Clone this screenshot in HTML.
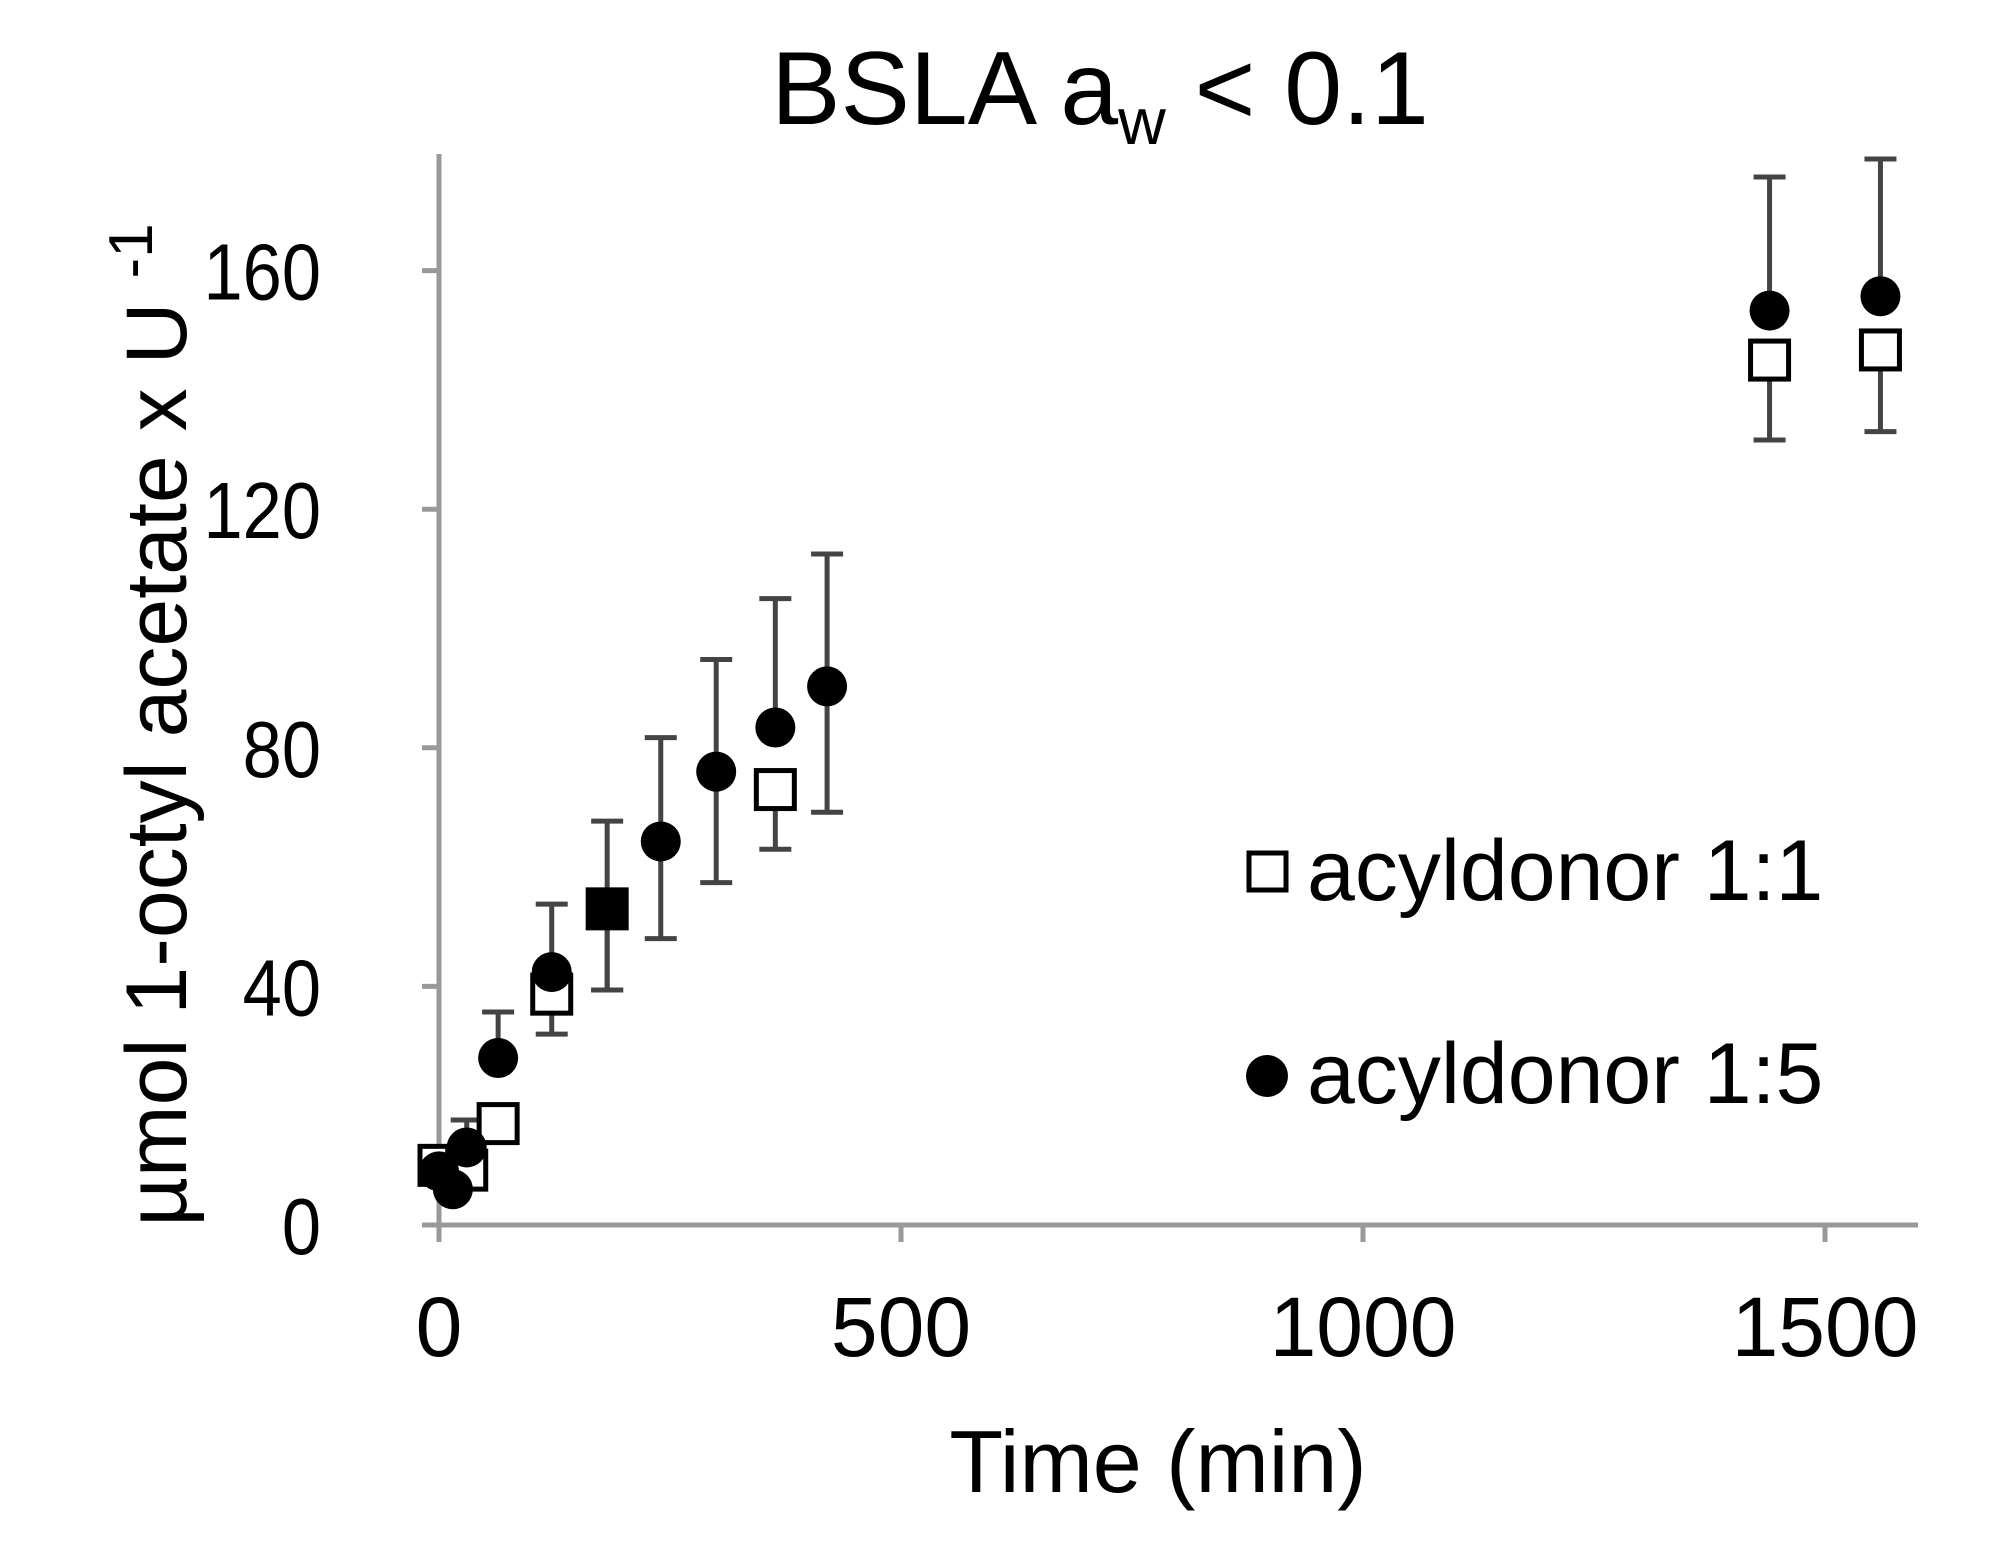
<!DOCTYPE html>
<html><head><meta charset="utf-8"><style>
html,body{margin:0;padding:0;background:#fff}
svg{display:block;font-family:"Liberation Sans",sans-serif}
</style></head><body>
<svg id="chart" width="2002" height="1555" viewBox="0 0 2002 1555">
<g id="axes"></g>
<g id="marks"></g>
<text x="1100" y="124" font-size="104" text-anchor="middle">BSLA a<tspan font-size="66" dy="20">w</tspan><tspan dy="-20"> &lt; 0.1</tspan></text>
<text x="1158" y="1492" font-size="88" text-anchor="middle">Time (min)</text>
<text transform="translate(186,725) rotate(-90)" font-size="86" text-anchor="middle">µmol 1-octyl acetate x U <tspan dy="-34" font-size="62">-1</tspan></text>
<g>
<rect x="1249" y="853" width="37" height="37" fill="#fff" stroke="#000" stroke-width="5"/>
<text x="1307" y="900" font-size="86">acyldonor 1:1</text>
<circle cx="1267" cy="1076" r="21" fill="#000"/>
<text x="1307" y="1103" font-size="86">acyldonor 1:5</text>
</g>
</svg>
<script>
const yTicks=[0,40,80,120,160];
const xTicks=[0,500,1000,1500];
const sqTime=[0,30,64,122,182,364,1440,1560];
const sqVal=[10,9.2,17,38.7,53,73,145,146.7];
const sqLow=[10,9.2,17,32,39.4,63,131.6,133];
const sqHigh=[10,9.2,17,38.7,53,73,145,146.7];
const sqFilled=[0,0,0,0,1,0,0,0];
const ciTime=[0,15,30,64,122,182,240,300,364,420,1440,1560];
const ciVal=[9,6,13,28,42.4,53,64.3,76,83.4,90.3,153.3,155.7];
const ciLow=[9,6,13,28,42.4,39.4,48,57.4,83.4,69.2,153.3,155.7];
const ciHigh=[9,6,17.6,35.7,53.8,67.7,81.7,94.8,105,112.5,175.7,178.7];

const X0=439,Y0=1225,PX=462/500,PY=238.6/40;
const xs=v=>X0+v*PX, ys=v=>Y0-v*PY;
const NS="http://www.w3.org/2000/svg";
function mk(p,tag,at){const e=document.createElementNS(NS,tag);for(const k in at)e.setAttribute(k,at[k]);p.appendChild(e);return e;}
const ax=document.getElementById('axes'), mg=document.getElementById('marks');
const g='#999';
let e=mk(ax,'line',{x1:X0,y1:154,x2:X0,y2:1240,stroke:g,'stroke-width':5});

e=mk(ax,'line',{x1:422,y1:Y0,x2:1918,y2:Y0,stroke:g,'stroke-width':5});

yTicks.forEach(v=>{
 let t=mk(ax,'line',{x1:422,y1:ys(v),x2:X0,y2:ys(v),stroke:g,'stroke-width':5});
 
 let l=mk(ax,'text',{x:321,y:ys(v)+29,'font-size':80,'text-anchor':'end',transform:'translate(321,0) scale(0.88,1) translate(-321,0)'});l.textContent=v;
 
});
xTicks.forEach(v=>{
 let t=mk(ax,'line',{x1:xs(v),y1:Y0,x2:xs(v),y2:1242,stroke:g,'stroke-width':5});
 
 let l=mk(ax,'text',{x:xs(v),y:1356,'font-size':84,'text-anchor':'middle'});l.textContent=v;
 
});
function err(x,lo,hi){
 if(hi-lo<0.5)return;
 let gr=mk(mg,'g',{stroke:'#444','stroke-width':5});
 
 mk(gr,'line',{x1:x,y1:ys(lo),x2:x,y2:ys(hi)});
 mk(gr,'line',{x1:x-16,y1:ys(lo),x2:x+16,y2:ys(lo)});
 mk(gr,'line',{x1:x-16,y1:ys(hi),x2:x+16,y2:ys(hi)});
}
ciTime.forEach((t,i)=>err(xs(t),ciLow[i],ciHigh[i]));
sqTime.forEach((t,i)=>err(xs(t),sqLow[i],sqHigh[i]));
sqTime.forEach((t,i)=>{
 let r=mk(mg,'rect',{x:xs(t)-19,y:ys(sqVal[i])-19,width:38,height:38,fill:sqFilled[i]?'#000':'#fff',stroke:'#000','stroke-width':5});
 
});
ciTime.forEach((t,i)=>{
 if(t===182)return;
 let c=mk(mg,'circle',{cx:xs(t),cy:ys(ciVal[i]),r:20,fill:'#000'});
 
});
</script>
</body></html>
